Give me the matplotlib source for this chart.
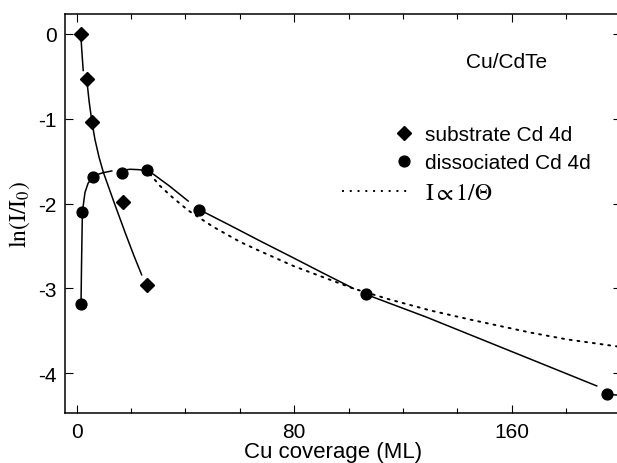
import numpy as np
import matplotlib
matplotlib.use("Agg")
import matplotlib.pyplot as plt
from matplotlib.lines import Line2D
from matplotlib.legend_handler import HandlerLine2D
from matplotlib.ticker import MultipleLocator

plt.rcParams['font.family'] = ['Liberation Sans', 'DejaVu Sans']
plt.rcParams['mathtext.fontset'] = 'stix'
plt.rcParams['axes.unicode_minus'] = False

# measured points
sub_x = [1.5, 3.7, 5.6, 16.9, 26.0]
sub_y = [0.0, -0.535, -1.035, -1.985, -2.96]
dis_x = [1.6, 2.1, 5.9, 16.5, 26.0, 45.0, 106.3, 194.9]
dis_y = [-3.18, -2.10, -1.69, -1.635, -1.60, -2.07, -3.07, -4.25]

# guide curves (nan = break in the drawn line)
sub_fit_x = [1.5, 1.9, 2.4, np.nan, 3.7, 4.6, 5.6, 6.7, 8.2, 9.8, 13.8, 17.8, 21.0, 23.9]
sub_fit_y = [0.0, -0.2, -0.43, np.nan, -0.535, -0.8, -1.035, -1.24, -1.45, -1.63, -1.99, -2.34, -2.61, -2.84]
dis_fit_x = [1.6, 1.8, 2.1, 3.05, 4.2, 5.9, 7.8, 9.8, 12.9, np.nan,
             16.5, 19.6, 23.0, 26.0, 28.5, 30.6, 34.0, 37.5, 41.0, np.nan,
             45.0, 56.0, 67.4, 80.0, 90.0, 101.7, np.nan,
             106.3, 128.7, 150.0, 170.0, 191.2, np.nan,
             194.9, 200.0]
dis_fit_y = [-3.18, -2.7, -2.10, -1.87, -1.76, -1.69, -1.655, -1.635, -1.615, np.nan,
             -1.61, -1.595, -1.60, -1.615, -1.66, -1.71, -1.79, -1.88, -1.97, np.nan,
             -2.07, -2.25, -2.44, -2.645, -2.81, -3.0, np.nan,
             -3.07, -3.34, -3.616, -3.875, -4.15, np.nan,
             -4.25, -4.26]
inv_x = [26.9, 30.6, 35, 41, 50, 60, 67.4, 80, 90, 101.6, 115, 130, 145, 166.7, 180, 200]
inv_y = [-1.65, -1.79, -1.92, -2.08, -2.27, -2.45, -2.56, -2.74, -2.86, -3.00, -3.13, -3.26, -3.37, -3.52, -3.60, -3.69]


class EndMarkerHandler(HandlerLine2D):
    # single marker sits at the right end of the handle box
    def get_xdata(self, legend, xdescent, ydescent, width, height, fontsize):
        mx = -xdescent + width - 0.1 * fontsize
        return np.array([mx - 1.0, mx + 1.0]), np.array([mx])


fig = plt.figure(figsize=(6.17, 4.64), dpi=100)
ax = fig.add_axes([0.1053, 0.1071, 0.9006, 0.8606])

ax.plot(sub_fit_x, sub_fit_y, color='black', lw=1.1)
ax.plot(dis_fit_x, dis_fit_y, color='black', lw=1.1)
ax.plot(inv_x, inv_y, color='black', lw=1.4, ls=(0, (1, 3)),
        dash_capstyle='round')
h1, = ax.plot(sub_x, sub_y, ls='none', marker='D', ms=7, color='black')
h2, = ax.plot(dis_x, dis_y, ls='none', marker='o', ms=7.8, color='black')

ax.set_xlim(-4.3, 200)
ax.set_ylim(-4.473, 0.236)
ax.xaxis.set_major_locator(MultipleLocator(80))
ax.xaxis.set_minor_locator(MultipleLocator(20))
ax.yaxis.set_major_locator(MultipleLocator(1))

ax.tick_params(which='both', direction='in', top=True, right=True,
               labelsize=15, width=0.8)
ax.tick_params(which='major', length=5.5, pad=6)
ax.tick_params(which='minor', length=3.5)
for s in ax.spines.values():
    s.set_linewidth(1.1)

ax.set_xlabel('Cu coverage (ML)', fontsize=16)
ax.xaxis.set_label_coords(0.482, -0.07)
ax.set_ylabel(r'$\mathrm{ln(I/I_0)}$', fontsize=17)
ax.yaxis.set_label_coords(-0.06, 0.5)

ax.text(0.794, 0.882, 'Cu/CdTe', transform=ax.transAxes, fontsize=15,
        ha='center', va='center')

dot_handle = Line2D([], [], color='black', lw=1.4, ls=(0, (1, 3)))
handles = [h1, h2, dot_handle]
labels = ['substrate Cd 4d', 'dissociated Cd 4d', r'$\mathrm{I} \propto 1/\Theta$']
leg = ax.legend(handles, labels, loc='upper left',
                bbox_to_anchor=(342 / 617, 1 - 126 / 464),
                bbox_transform=fig.transFigure, frameon=False, fontsize=15,
                handlelength=3.1, handletextpad=0.9, labelspacing=0.45,
                borderpad=0, borderaxespad=0,
                handler_map={h1: EndMarkerHandler(), h2: EndMarkerHandler()})
leg.get_texts()[2].set_fontsize(17)

fig.savefig('out.png', dpi=100)
